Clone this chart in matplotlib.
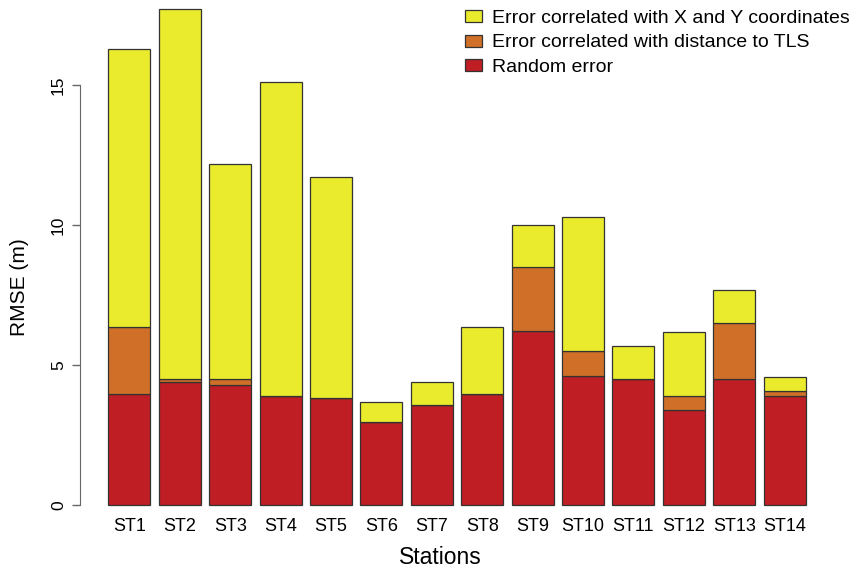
import numpy as np
import matplotlib
matplotlib.use('Agg')
import matplotlib.pyplot as plt

plt.rcParams.update({
    'font.family': ['Liberation Sans', 'DejaVu Sans'],
    'font.size': 13,
})

# ---- data (RMSE components, m) ----
stations = ['ST1', 'ST2', 'ST3', 'ST4', 'ST5', 'ST6', 'ST7',
            'ST8', 'ST9', 'ST10', 'ST11', 'ST12', 'ST13', 'ST14']
random_err = [3.97, 4.40, 4.31, 3.91, 3.83, 2.99, 3.59,
              3.98, 6.23, 4.63, 4.52, 3.41, 4.52, 3.92]
dist_err = [2.42, 0.12, 0.21, 0.0, 0.0, 0.0, 0.0,
            0.0, 2.30, 0.88, 0.0, 0.50, 1.99, 0.18]
xy_err = [9.92, 13.21, 7.68, 11.20, 7.89, 0.71, 0.81,
          2.41, 1.49, 4.78, 1.19, 2.30, 1.19, 0.50]

c_red = '#BE1E24'
c_orange = '#D07028'
c_yellow = '#EBEB2D'
edge = '#333333'
axis_col = '#666666'

W, H = 859, 568
fig = plt.figure(figsize=(W / 100, H / 100), dpi=100)
ax = fig.add_axes([80 / W, (H - 508.3) / H, 762 / W, 508.3 / H])

x = np.arange(len(stations))
w = 0.833
red = np.array(random_err)
orn = np.array(dist_err)
yel = np.array(xy_err)

ax.bar(x, red, w, color=c_red, edgecolor=edge, linewidth=0.9, label='Random error')
ax.bar(x, orn, w, bottom=red, color=c_orange, edgecolor=edge, linewidth=0.9,
       label='Error correlated with distance to TLS')
ax.bar(x, yel, w, bottom=red + orn, color=c_yellow, edgecolor=edge, linewidth=0.9,
       label='Error correlated with X and Y coordinates')

ax.set_xlim(-0.982, 14.14)
ax.set_ylim(-0.1, 18.05)

for s in ['top', 'right', 'bottom']:
    ax.spines[s].set_visible(False)
ax.spines['left'].set_bounds(0, 15)
ax.spines['left'].set_color(axis_col)

ax.set_yticks([0, 5, 10, 15])
ax.set_yticklabels(['0', '5', '10', '15'], rotation=90, va='center', fontsize=12.5)
ax.tick_params(axis='y', length=6, width=1, color=axis_col, pad=4)
ax.set_xticks(x)
ax.set_xticklabels(stations, fontsize=13,
                   family=['Liberation Sans Narrow', 'Liberation Sans', 'DejaVu Sans'])
ax.tick_params(axis='x', length=0, pad=7)

fig.text(20 / W, 1 - 287 / H, 'RMSE (m)', rotation=90, ha='center', va='center', fontsize=15)
fig.text(440 / W, 1 - 558 / H, 'Stations', ha='center', va='center', fontsize=16.5)

h, l = ax.get_legend_handles_labels()
ax.legend(h[::-1], l[::-1], loc='upper left', bbox_to_anchor=(465 / W, 1 - 10 / H),
          bbox_transform=fig.transFigure, frameon=False, fontsize=14,
          handlelength=0.88, handleheight=0.57, handletextpad=0.5,
          labelspacing=0.38, borderaxespad=0, borderpad=0)

fig.savefig('out.png', dpi=100)
